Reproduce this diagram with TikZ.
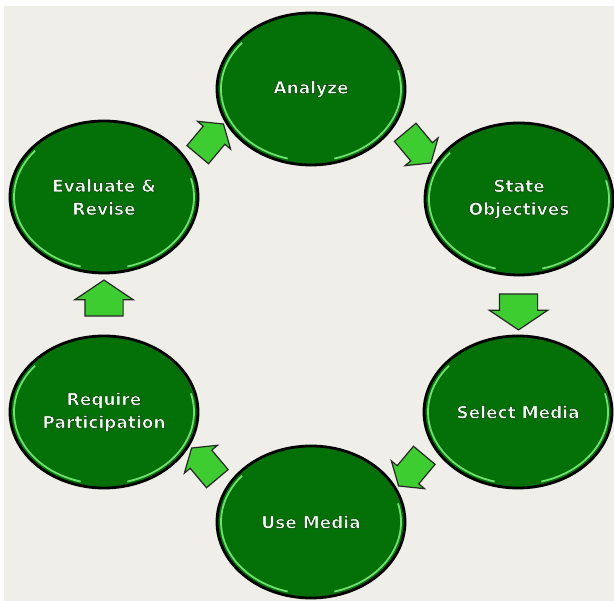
\documentclass[tikz,border=0pt]{standalone}
\usepackage{fontspec}
\setmainfont{DejaVu Sans}[BoldFont={DejaVu Sans Bold}]
\usetikzlibrary{shapes.geometric,shapes.arrows,calc}
\definecolor{bg}{RGB}{239,238,233}
\definecolor{dkgreen}{RGB}{4,112,8}
\definecolor{ltgreen}{RGB}{62,205,48}
\definecolor{rimgreen}{RGB}{110,225,110}
\definecolor{txtfill}{RGB}{240,255,240}
\newcommand{\ctx}[1]{\special{pdf:literal direct 0 0.2 0 RG 0.5 w 2 Tr}#1\special{pdf:literal direct 0 Tr}}
\begin{document}
\begin{tikzpicture}[x=1bp,y=1bp,
  stage/.style={ellipse, minimum width=188bp, minimum height=152bp, inner sep=0pt,
    fill=dkgreen, draw=black, line width=2.8bp, text=txtfill,
    font=\bfseries\fontsize{17bp}{23bp}\selectfont, align=center},
  flow/.style={single arrow, fill=ltgreen, draw=black!85, line width=1.2bp,
    inner xsep=0pt, inner ysep=18.5bp,
    single arrow tip angle=112, single arrow head extend=10bp,
    minimum height=36bp},
  diag/.style={flow, inner ysep=13.5bp, minimum height=40bp, single arrow head extend=7.5bp},
  rim/.style={draw=rimgreen, line width=1.8bp}
]
\useasboundingbox (0,0) rectangle (614,601);
\fill[white] (0,0) rectangle (614,601);
\fill[bg] (4,0) rectangle (614,595);

\node[stage] (ana) at (311,512) {\ctx{Analyze}};
\node[stage] (sta) at (519,402) {\ctx{State}\\\ctx{Objectives}};
\node[stage] (sel) at (518,189) {\ctx{Select Media}};
\node[stage] (use) at (311,79)  {\ctx{Use Media}};
\node[stage] (req) at (104,189) {\ctx{Require}\\\ctx{Participation}};
\node[stage] (eva) at (104,404) {\ctx{Evaluate \&}\\\ctx{Revise}};

\foreach \n in {ana,sta,sel,use,req,eva}{
  \draw[rim] ($(\n.center)+(140:90bp and 72bp)$) arc[start angle=140, end angle=255, x radius=90bp, y radius=72bp];
  \draw[rim] ($(\n.center)+(-75:90bp and 72bp)$) arc[start angle=-75, end angle=15, x radius=90bp, y radius=72bp];
}

\node[diag, rotate=-50] (a1) at ($(ana)!0.5!(sta)$) {};
\node[flow, rotate=-90] (a2) at ($(sta)!0.5!(sel)$) {};
\node[diag, rotate=-130] (a3) at ($(sel)!0.5!(use)$) {};
\node[diag, rotate=130] (a4) at ($(use)!0.5!(req)$) {};
\node[flow, rotate=90] (a5) at ($(req)!0.5!(eva)$) {};
\node[diag, rotate=50] (a6) at ($(eva)!0.5!(ana)$) {};
\end{tikzpicture}
\end{document}
